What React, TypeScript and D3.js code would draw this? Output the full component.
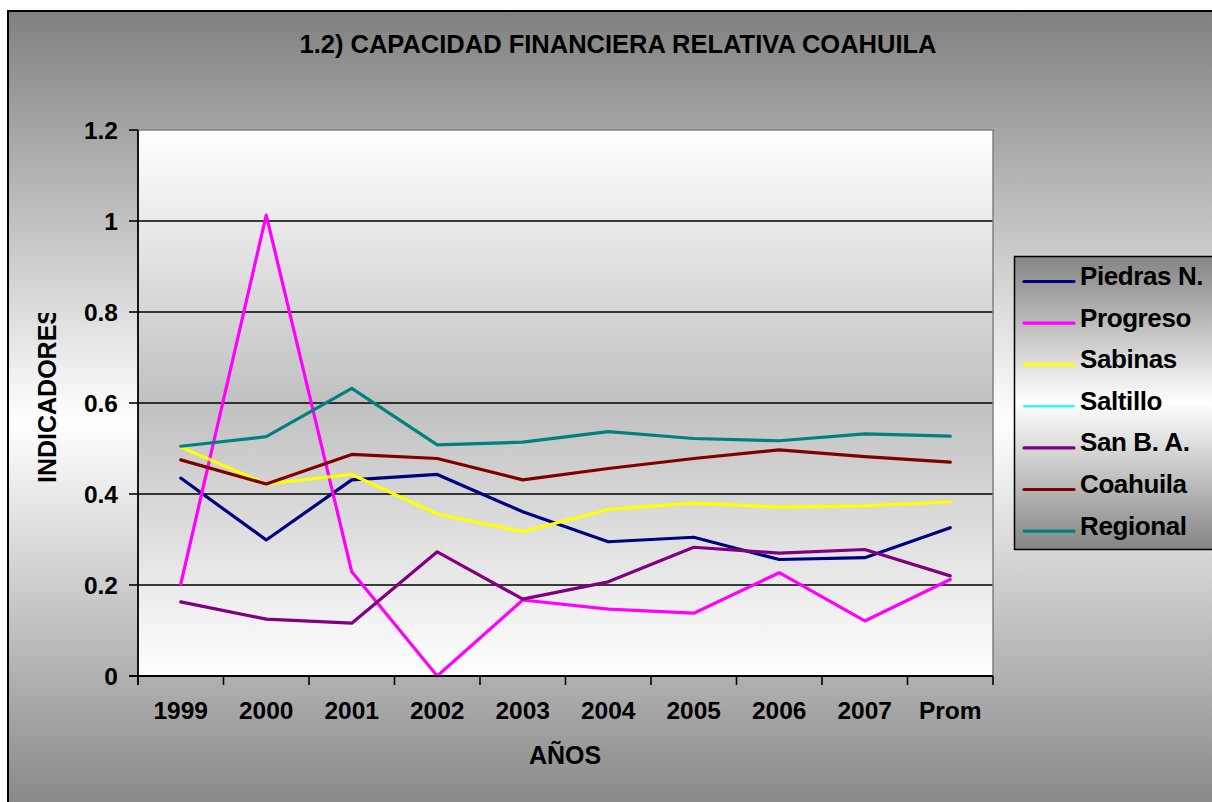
import React from "react";
import * as d3 from "d3";

const categories = ["1999", "2000", "2001", "2002", "2003", "2004", "2005", "2006", "2007", "Prom"];
const yTicks = [0, 0.2, 0.4, 0.6, 0.8, 1, 1.2];

const piedras = [0.435, 0.299, 0.431, 0.443, 0.361, 0.295, 0.305, 0.256, 0.26, 0.326];
const progreso = [0.202, 1.013, 0.229, 0.0, 0.167, 0.147, 0.138, 0.227, 0.121, 0.212];
const sabinas = [0.503, 0.422, 0.443, 0.356, 0.317, 0.366, 0.38, 0.371, 0.374, 0.383];
const saltillo: (number | null)[] = [null, null, null, null, null, null, null, null, null, null];
const sanBA = [0.163, 0.125, 0.116, 0.273, 0.169, 0.207, 0.283, 0.27, 0.278, 0.22];
const coahuila = [0.475, 0.422, 0.487, 0.478, 0.431, 0.456, 0.478, 0.497, 0.482, 0.47];
const regional = [0.505, 0.526, 0.632, 0.508, 0.514, 0.537, 0.522, 0.517, 0.532, 0.527];

const seriesNames = ["Piedras N.", "Progreso", "Sabinas", "Saltillo", "San B. A.", "Coahuila", "Regional"];
const seriesColors = ["#000080", "#FF00FF", "#FFFF00", "#00FFFF", "#800080", "#800000", "#008080"];
const seriesValues: (number | null)[][] = [piedras, progreso, sabinas, saltillo, sanBA, coahuila, regional];

const FONT = "'Liberation Sans', Arial, Helvetica, sans-serif";

export default function App() {
  const W = 1212;
  const H = 802;
  const left = 138;
  const right = 993;
  const top = 130;
  const bottom = 676;

  const x = d3.scaleBand<string>().domain(categories).range([left, right]).padding(0);
  const y = d3.scaleLinear().domain([0, 1.2]).range([bottom, top]);

  const line = d3
    .line<number | null>()
    .defined((d) => d !== null)
    .x((_, i) => (x(categories[i]) as number) + x.bandwidth() / 2)
    .y((d) => y(d as number));

  const tickEdges = categories.map((c) => x(c) as number).concat([right]);

  return (
    <svg
      width={W}
      height={H}
      style={{ position: "fixed", left: 0, top: 0, display: "block" }}
      fontFamily={FONT}
    >
      <defs>
        <linearGradient id="outerGrad" x1="0" y1="0" x2="0" y2="1">
          <stop offset="0%" stopColor="#808080" />
          <stop offset="50%" stopColor="#ffffff" />
          <stop offset="100%" stopColor="#808080" />
        </linearGradient>
        <linearGradient id="plotGrad" x1="0" y1="0" x2="0" y2="1">
          <stop offset="0%" stopColor="#ffffff" />
          <stop offset="50%" stopColor="#c0c0c0" />
          <stop offset="100%" stopColor="#ffffff" />
        </linearGradient>
        <linearGradient id="legGrad" x1="0" y1="0" x2="0" y2="1">
          <stop offset="0%" stopColor="#848484" />
          <stop offset="50%" stopColor="#ffffff" />
          <stop offset="100%" stopColor="#848484" />
        </linearGradient>
        <clipPath id="yTitleClip">
          <rect x={0} y={313} width={120} height={300} />
        </clipPath>
      </defs>

      <rect x={0} y={0} width={W} height={H} fill="#ffffff" />
      <rect x={8} y={11} width={W + 20} height={H + 20} fill="url(#outerGrad)" stroke="#000" strokeWidth={2} />

      <text x={618} y={53} textAnchor="middle" fontSize={25.5} fontWeight="bold" fill="#000">
        1.2) CAPACIDAD FINANCIERA RELATIVA COAHUILA
      </text>

      {/* plot area */}
      <rect x={left} y={top} width={right - left} height={bottom - top} fill="url(#plotGrad)" />
      {yTicks
        .filter((t) => t > 0 && t < 1.2)
        .map((t) => (
          <line key={"g" + t} x1={left} x2={right} y1={y(t)} y2={y(t)} stroke="#000" strokeWidth={1.6} />
        ))}
      <path d={`M${left},${top}H${right}V${bottom}`} fill="none" stroke="#808080" strokeWidth={1.5} />

      {/* series */}
      {seriesValues.map((vals, i) => (
        <path
          key={seriesNames[i]}
          d={line(vals) || ""}
          fill="none"
          stroke={seriesColors[i]}
          strokeWidth={3.2}
          strokeLinejoin="round"
          strokeLinecap="round"
        />
      ))}

      {/* axes */}
      <line x1={left} x2={left} y1={top} y2={bottom + 9} stroke="#000" strokeWidth={1.8} />
      <line x1={left - 9} x2={right} y1={bottom} y2={bottom} stroke="#000" strokeWidth={1.8} />
      {yTicks.map((t) => (
        <g key={"yt" + t}>
          <line x1={left - 9} x2={left} y1={y(t)} y2={y(t)} stroke="#000" strokeWidth={1.6} />
          <text x={118} y={y(t)} dy="0.36em" textAnchor="end" fontSize={24.5} fontWeight="bold" fill="#000">
            {String(t)}
          </text>
        </g>
      ))}
      {tickEdges.map((e, i) => (
        <line key={"xt" + i} x1={e} x2={e} y1={bottom} y2={bottom + 9} stroke="#000" strokeWidth={1.6} />
      ))}
      {categories.map((c) => (
        <text
          key={"xl" + c}
          x={(x(c) as number) + x.bandwidth() / 2}
          y={719}
          textAnchor="middle"
          fontSize={24.5}
          fontWeight="bold"
          fill="#000"
        >
          {c}
        </text>
      ))}

      <text x={565} y={764} textAnchor="middle" fontSize={25} fontWeight="bold" fill="#000">
        AÑOS
      </text>
      <g clipPath="url(#yTitleClip)">
        <text
          transform="translate(56,483) rotate(-90)"
          textAnchor="start"
          fontSize={25}
          fontWeight="bold"
          fill="#000"
        >
          INDICADORES
        </text>
      </g>

      {/* legend */}
      <rect x={1014.5} y={256.5} width={220} height={293} fill="url(#legGrad)" stroke="#000" strokeWidth={1.5} />
      {seriesNames.map((n, i) => {
        const ly = 281.5 + i * 41.6;
        return (
          <g key={"lg" + n}>
            <line
              x1={1024}
              x2={1074}
              y1={ly}
              y2={ly}
              stroke={seriesColors[i]}
              strokeWidth={n === "Saltillo" ? 2 : 3.2}
              strokeLinecap="round"
            />
            <text x={1080} y={ly + 3.5} fontSize={26} fontWeight="bold" fill="#000" letterSpacing={-0.4}>
              {n}
            </text>
          </g>
        );
      })}
    </svg>
  );
}
